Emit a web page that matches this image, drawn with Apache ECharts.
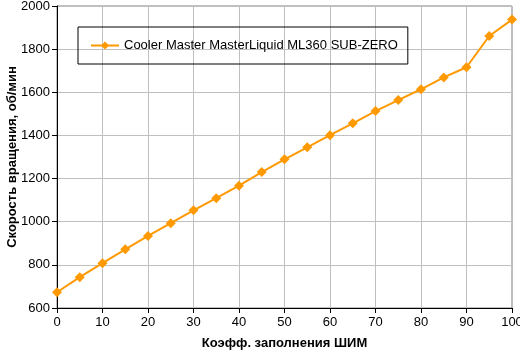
<!DOCTYPE html>
<html><head><meta charset="utf-8">
<script src="https://cdn.jsdelivr.net/npm/echarts@6/dist/echarts.min.js"></script>
<style>html,body{margin:0;padding:0;background:#fff}#c{width:520px;height:355px}</style>
</head><body><div id="c"></div>
<script>
var pwm = [0,5,10,15,20,25,30,35,40,45,50,55,60,65,70,75,80,85,90,95,100];
var rpm = [673,743,808,872,934,993,1053,1109,1167,1230,1289,1345,1401,1456,1513,1564,1614,1669,1716,1861,1937];
var seriesName = 'Cooler Master MasterLiquid ML360 SUB-ZERO';
var xTitle = 'Коэфф. заполнения ШИМ';
var yTitle = 'Скорость вращения, об/мин';
var font = '"Liberation Sans", Arial, sans-serif';
var chart = echarts.init(document.getElementById('c'), null, {renderer:'canvas'});
chart.setOption({
  animation:false,
  textStyle:{fontFamily:font},
  grid:{left:57,right:8,top:6,bottom:47,show:true,borderColor:'#808080',borderWidth:1,containLabel:false,outerBoundsMode:'none'},
  legend:{show:true,left:78,top:27,orient:'horizontal',borderColor:'#000',borderWidth:1,
    padding:[12,10,12,12],itemWidth:28,itemHeight:10,itemGap:5,
    textStyle:{fontFamily:font,fontSize:13,color:'#000'},
    data:[seriesName]},
  xAxis:{type:'value',min:0,max:100,interval:10,
    name:xTitle,nameLocation:'middle',nameGap:29,nameMoveOverlap:false,
    nameTextStyle:{fontFamily:font,fontSize:13,fontWeight:'bold',color:'#000'},
    axisLine:{show:true,lineStyle:{color:'#000',width:1}},
    axisTick:{show:true,length:5,lineStyle:{color:'#000'}},
    axisLabel:{fontFamily:font,fontSize:13,color:'#000',margin:8,formatter:function(v){return String(v);}},
    splitLine:{show:true,lineStyle:{color:'#c0c0c0',width:1}}},
  yAxis:{type:'value',min:600,max:2000,interval:200,
    name:yTitle,nameLocation:'middle',nameGap:38,nameMoveOverlap:false,
    nameTextStyle:{fontFamily:font,fontSize:13,fontWeight:'bold',color:'#000'},
    axisLine:{show:true,lineStyle:{color:'#000',width:1}},
    axisTick:{show:true,length:5,lineStyle:{color:'#000'}},
    axisLabel:{fontFamily:font,fontSize:13,color:'#000',margin:7,formatter:function(v){return String(v);}},
    splitLine:{show:true,lineStyle:{color:'#c0c0c0',width:1}}},
  series:[{name:seriesName,type:'line',data:pwm.map(function(x,i){return [x,rpm[i]];}),
    symbol:'diamond',symbolSize:10,showAllSymbol:true,
    lineStyle:{color:'#FF9900',width:2},
    itemStyle:{color:'#FF9900',borderWidth:0}}]
});
</script></body></html>
